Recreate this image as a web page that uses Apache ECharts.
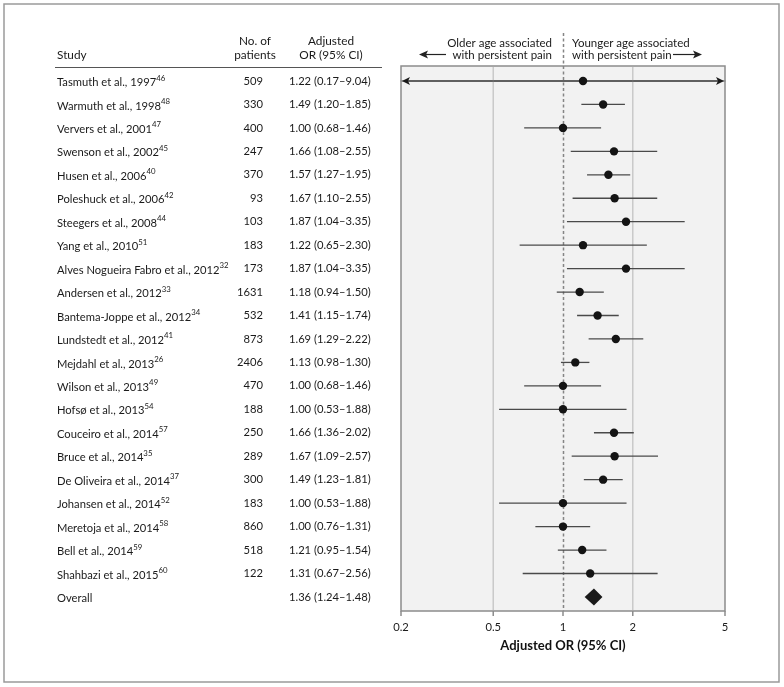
<!DOCTYPE html>
<html><head><meta charset="utf-8">
<script src="https://cdn.jsdelivr.net/npm/echarts@6/dist/echarts.min.js"></script>
<style>html,body{margin:0;padding:0;background:#fff}#c{width:784px;height:687px}</style>
</head><body><div id="c"></div>
<script>
const studyNames = ['Tasmuth et al., 1997','Warmuth et al., 1998','Ververs et al., 2001','Swenson et al., 2002','Husen et al., 2006','Poleshuck et al., 2006','Steegers et al., 2008','Yang et al., 2010','Alves Nogueira Fabro et al., 2012','Andersen et al., 2012','Bantema-Joppe et al., 2012','Lundstedt et al., 2012','Mejdahl et al., 2013','Wilson et al., 2013','Hofsø et al., 2013','Couceiro et al., 2014','Bruce et al., 2014','De Oliveira et al., 2014','Johansen et al., 2014','Meretoja et al., 2014','Bell et al., 2014','Shahbazi et al., 2015','Overall'];
const studyRefs = ['46','48','47','45','40','42','44','51','32','33','34','41','26','49','54','57','35','37','52','58','59','60',''];
const patients = [509,330,400,247,370,93,103,183,173,1631,532,873,2406,470,188,250,289,300,183,860,518,122,null];
const orValues = [1.22,1.49,1.00,1.66,1.57,1.67,1.87,1.22,1.87,1.18,1.41,1.69,1.13,1.00,1.00,1.66,1.67,1.49,1.00,1.00,1.21,1.31,1.36];
const ciLow  = [0.17,1.20,0.68,1.08,1.27,1.10,1.04,0.65,1.04,0.94,1.15,1.29,0.98,0.68,0.53,1.36,1.09,1.23,0.53,0.76,0.95,0.67,1.24];
const ciHigh = [9.04,1.85,1.46,2.55,1.95,2.55,3.35,2.30,3.35,1.50,1.74,2.22,1.30,1.46,1.88,2.02,2.57,1.81,1.88,1.31,1.54,2.56,1.48];
const tickLabels = [0.2,0.5,1,2,5];
const refGridValues = [0.5,2];
const nullEffect = [1];

const FONT = 'Lato';
const TXT = '#1a1a1a';
const n = studyNames.length;
const rows = studyNames.map((_, i) => i);
const yMin = -0.64, yMax = 22.6;

function textAxis(margin, align, fmt, rich) {
  return {
    type: 'value', min: yMin, max: yMax, inverse: true, position: 'left', gridIndex: 0,
    axisLine: {show: false}, axisTick: {show: false}, splitLine: {show: false},
    axisLabel: {customValues: rows, margin: margin, align: align, formatter: fmt,
      color: TXT, fontFamily: FONT, fontSize: 11.2, rich: rich}
  };
}
const fmtNum = v => v.toFixed(2);

const chart = echarts.init(document.getElementById('c'), null, {renderer: 'canvas'});
chart.setOption({
  animation: false,
  backgroundColor: '#fff',
  grid: {left: 401, right: 59, top: 66, bottom: 76, show: true, backgroundColor: '#f2f2f2',
    borderColor: '#8c8c8c', borderWidth: 1.5},
  xAxis: {
    type: 'log', logBase: 10, min: 0.2, max: 5,
    axisLine: {show: true, lineStyle: {color: '#8c8c8c', width: 1.5}},
    axisTick: {show: false}, axisLabel: {show: false}, splitLine: {show: false},
    name: 'Adjusted OR (95% CI)', nameLocation: 'middle', nameGap: 28,
    nameTextStyle: {fontFamily: FONT, fontWeight: 'bold', fontSize: 13, color: '#111'}
  },
  yAxis: [
    {type: 'value', min: yMin, max: yMax, inverse: true, show: false},
    textAxis(344, 'left', v => '{n|' + studyNames[v] + '}' + (studyRefs[v] ? '{s|' + studyRefs[v] + '}' : ''), {
      n: {fontFamily: FONT, fontSize: 11.2, color: TXT, lineHeight: 14, verticalAlign: 'bottom'},
      s: {fontFamily: FONT, fontSize: 7.8, color: TXT, verticalAlign: 'top', lineHeight: 13}
    }),
    textAxis(138, 'right', v => patients[v] == null ? '' : String(patients[v])),
    textAxis(112, 'left', v => fmtNum(orValues[v]) + ' (' + fmtNum(ciLow[v]) + '\u2013' + fmtNum(ciHigh[v]) + ')')
  ],
  series: [
    {
      type: 'custom', xAxisIndex: 0, yAxisIndex: 0, clip: false, z: 1,
      data: refGridValues.map(v => [v, 0]),
      renderItem: (params, api) => {
        const cs = params.coordSys;
        const x = api.coord([api.value(0), 0])[0];
        return {type: 'line', shape: {x1: x, y1: cs.y + 1, x2: x, y2: cs.y + cs.height - 1},
          style: {stroke: '#c9c9c9', lineWidth: 1.5}};
      }
    },
    {
      type: 'custom', xAxisIndex: 0, yAxisIndex: 0, clip: false, z: 2,
      data: nullEffect.map(v => [v, 0]),
      renderItem: (params, api) => {
        const cs = params.coordSys;
        const x = Math.round(api.coord([api.value(0), 0])[0]) + 0.5;
        return {type: 'line', shape: {x1: x, y1: cs.y - 33, x2: x, y2: cs.y + cs.height},
          style: {stroke: '#858585', lineWidth: 1.5, lineDash: [3, 2.5]}};
      }
    },
    {
      type: 'custom', xAxisIndex: 0, yAxisIndex: 0, clip: false, z: 3,
      data: tickLabels.map(v => [v, yMax]),
      renderItem: (params, api) => {
        const cs = params.coordSys;
        const v = api.value(0);
        const x = api.coord([v, yMax])[0];
        const yb = cs.y + cs.height;
        return {type: 'group', children: [
          {type: 'line', shape: {x1: x, y1: yb, x2: x, y2: yb + 5}, style: {stroke: '#8c8c8c', lineWidth: 1.5}},
          {type: 'text', style: {text: String(v), x: x, y: yb + 16, align: 'center', verticalAlign: 'middle',
            fontFamily: FONT, fontSize: 11.2, fill: TXT}}
        ]};
      }
    },
    {
      type: 'custom', xAxisIndex: 0, yAxisIndex: 0, clip: false, z: 5,
      data: rows.map(i => [orValues[i], i, ciLow[i], ciHigh[i], i === n - 1 ? 1 : 0]),
      encode: {x: 0, y: 1},
      renderItem: (params, api) => {
        const cs = params.coordSys;
        const row = api.value(1);
        const c = api.coord([api.value(0), row]);
        const xl = api.coord([api.value(2), row])[0];
        const xh = api.coord([api.value(3), row])[0];
        const left = cs.x, right = cs.x + cs.width;
        const y = c[1];
        if (api.value(4) === 1) {
          const h = 8.5;
          return {type: 'polygon', shape: {points: [[xl, y], [c[0], y - h], [xh, y], [c[0], y + h]]},
            style: {fill: '#1a1a1a'}};
        }
        const children = [];
        const lx = Math.max(xl, left + 3), rx = Math.min(xh, right - 3);
        children.push({type: 'line', shape: {x1: lx, y1: y, x2: rx, y2: y},
          style: {stroke: '#4a4a4a', lineWidth: 1.3}});
        if (xl < left) {
          children.push({type: 'polygon', shape: {points: [[left + 1, y], [left + 9, y - 4], [left + 7, y], [left + 9, y + 4]]},
            style: {fill: '#1a1a1a'}});
        }
        if (xh > right) {
          children.push({type: 'polygon', shape: {points: [[right - 1, y], [right - 9, y - 4], [right - 7, y], [right - 9, y + 4]]},
            style: {fill: '#1a1a1a'}});
        }
        children.push({type: 'circle', shape: {cx: c[0], cy: y, r: 4.2}, style: {fill: '#141414'}});
        return {type: 'group', children: children};
      }
    }
  ],
  graphic: [
    {type: 'rect', shape: {x: 4, y: 4, width: 775, height: 678}, style: {fill: null, stroke: '#9a9a9a', lineWidth: 1.5}, silent: true},
    {type: 'text', style: {text: 'Study', x: 57, y: 55, verticalAlign: 'middle', fontFamily: FONT, fontSize: 11.8, fill: TXT}},
    {type: 'text', style: {text: 'No. of', x: 255, y: 41, align: 'center', verticalAlign: 'middle', fontFamily: FONT, fontSize: 11.8, fill: TXT}},
    {type: 'text', style: {text: 'patients', x: 255, y: 55, align: 'center', verticalAlign: 'middle', fontFamily: FONT, fontSize: 11.8, fill: TXT}},
    {type: 'text', style: {text: 'Adjusted', x: 331, y: 41, align: 'center', verticalAlign: 'middle', fontFamily: FONT, fontSize: 11.8, fill: TXT}},
    {type: 'text', style: {text: 'OR (95% CI)', x: 331, y: 55, align: 'center', verticalAlign: 'middle', fontFamily: FONT, fontSize: 11.8, fill: TXT}},
    {type: 'line', shape: {x1: 55, y1: 67.5, x2: 382, y2: 67.5}, style: {stroke: '#555', lineWidth: 1.2}},
    {type: 'text', style: {text: 'Older age associated', x: 552, y: 43, align: 'right', verticalAlign: 'middle', fontFamily: FONT, fontSize: 11.5, fill: TXT}},
    {type: 'text', style: {text: 'with persistent pain', x: 552, y: 55, align: 'right', verticalAlign: 'middle', fontFamily: FONT, fontSize: 11.5, fill: TXT}},
    {type: 'text', style: {text: 'Younger age associated', x: 572, y: 43, align: 'left', verticalAlign: 'middle', fontFamily: FONT, fontSize: 11.5, fill: TXT}},
    {type: 'text', style: {text: 'with persistent pain', x: 572, y: 55, align: 'left', verticalAlign: 'middle', fontFamily: FONT, fontSize: 11.5, fill: TXT}},
    {type: 'line', shape: {x1: 424, y1: 54.5, x2: 446, y2: 54.5}, style: {stroke: '#222', lineWidth: 1.2}},
    {type: 'polygon', shape: {points: [[419, 54.5], [428, 50.5], [426, 54.5], [428, 58.5]]}, style: {fill: '#222'}},
    {type: 'line', shape: {x1: 673, y1: 54.5, x2: 697, y2: 54.5}, style: {stroke: '#222', lineWidth: 1.2}},
    {type: 'polygon', shape: {points: [[702, 54.5], [693, 50.5], [695, 54.5], [693, 58.5]]}, style: {fill: '#222'}}
  ]
});
</script></body></html>
